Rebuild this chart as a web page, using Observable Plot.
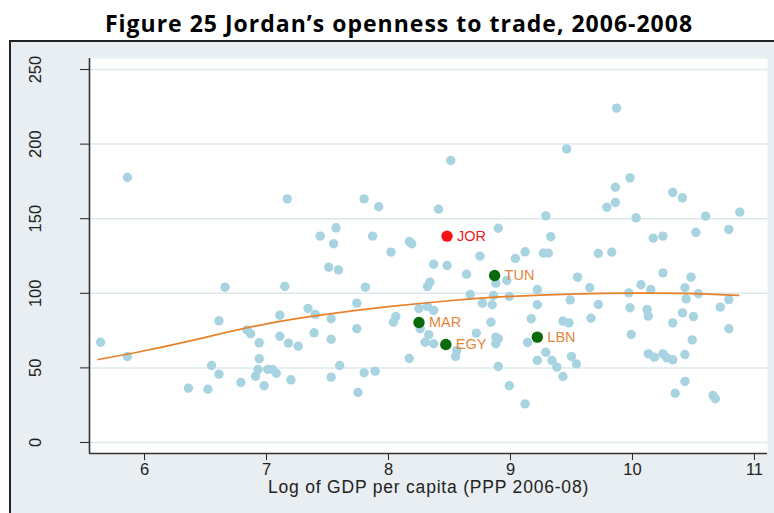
<!DOCTYPE html>
<html><head><meta charset="utf-8">
<script src="https://cdn.jsdelivr.net/npm/d3@7"></script>
<script src="https://cdn.jsdelivr.net/npm/@observablehq/plot@0.6"></script>
<style>
body{margin:0;background:#fff;width:774px;height:513px;overflow:hidden;position:relative;font-family:"Liberation Sans",Arial,sans-serif}
#title{position:absolute;left:0;top:3px;width:798px;height:36px;text-align:center;font-family:"Open Sans",sans-serif;font-weight:bold;font-size:23px;letter-spacing:1px;line-height:40px;color:#000;white-space:nowrap}
#box{position:absolute;left:9px;top:40px;width:765px;height:473px;border-left:2px solid #222;border-top:2px solid #222;background:#e8eef1;box-sizing:border-box}
#box svg{display:block;font-family:"Liberation Sans",Arial,sans-serif !important}
#box svg text{font-family:"Liberation Sans",Arial,sans-serif !important}
</style></head>
<body>
<div id="title">Figure 25 Jordan’s openness to trade, 2006-2008</div>
<div id="box"></div>
<script>
const gdp = [5.86,7.17,7.80,7.92,7.57,7.44,7.87,7.55,8.02,7.51,7.59,9.87,9.46,8.51,9.98,9.86,10.33,10.41,9.86,9.79,
8.41,9.29,10.03,10.60,10.88,8.90,9.33,10.17,10.25,10.52,10.79,8.17,8.19,9.12,9.27,9.31,9.72,9.83,8.75,9.04,
8.37,8.48,8.64,10.25,10.48,9.55,8.88,8.97,7.81,8.34,8.32,6.66,7.15,
5.64,5.86,6.61,6.84,6.87,6.94,6.94,6.55,6.61,6.36,6.52,6.79,6.91,6.93,7.01,7.05,7.08,6.98,7.11,7.11,7.18,7.26,7.20,
7.34,7.40,7.39,7.53,7.53,7.60,7.53,7.74,7.74,7.80,7.89,7.75,8.04,8.06,
8.17,8.25,8.32,8.37,8.26,8.33,8.30,8.37,8.56,8.55,8.67,8.77,8.85,8.86,8.84,8.99,8.72,8.88,8.90,8.88,8.90,8.99,9.12,
9.14,9.22,9.17,9.22,9.22,9.43,9.48,9.49,9.65,9.72,9.66,9.29,9.34,9.38,9.50,9.54,9.43,
9.97,10.07,10.15,9.98,10.12,10.13,9.99,10.13,10.18,10.25,10.28,10.33,10.33,10.41,10.50,10.43,10.44,10.54,10.49,10.43,
10.43,10.35,10.66,10.68,10.72,10.79,10.79];
const openness = [177.6,163.3,163.3,158,143.9,138.3,138.3,133.2,127.6,117.5,115.7,224.1,196.8,189,177.4,171.1,167.6,164,160.9,157.7,
156.4,151.9,150.6,151.7,154.4,143.6,137.9,137,138.3,140.8,142.8,134.7,133.2,127.8,126.9,126.9,126.7,127.6,124.9,123.3,
119.5,118.6,112.8,113.7,110.8,110.8,106.8,108.6,104.1,107.5,104.5,104.1,104.6,
67.2,57.6,81.5,75.5,72.9,66.8,56.1,51.6,45.8,36.4,35.7,40.2,44.4,48.9,48.9,48.9,46.4,38,85.3,71.2,66.6,64.5,42,
89.8,85.8,73.5,82.9,69.2,51.6,43.8,93.4,76.2,46.7,47.8,33.5,80.6,84.4,
56.3,89.8,91.2,88.5,76.2,72.2,67.2,66.2,61.7,57.6,99.2,93.4,92.3,98.5,80.6,97.9,73.3,70.6,69.5,66.2,50.9,38,25.9,
67,55,82.9,92.3,102.5,81.3,80.2,95.6,103.7,92.5,83.3,60.5,55,50.5,57.6,52.7,44.2,
100.3,105.7,102.5,90.3,89.1,84.7,72.4,59.4,57.2,59.4,56.8,55.4,80.2,86.9,84.4,103.7,96.3,99.7,68.8,59,
40.9,33,31.5,29.3,90.7,95.8,76.2];
const hlCode = ["JOR","TUN","MAR","EGY","LBN"];
const hlGdp = [8.48,8.87,8.25,8.47,9.22];
const hlOpen = [138.3,111.9,80.4,65.7,70.6];
const fitGdp = [5.62,6,6.5,7,7.5,8,8.5,9,9.5,10,10.5,10.87];
const fitOpen = [55.6,61.5,70.5,79.5,86,91,95,97.9,99.5,100.1,99.8,98.6];
const xTicks = [6,7,8,9,10,11];
const yTicks = [0,50,100,150,200,250];
const xLabel = "Log of GDP per capita (PPP 2006-08)";

const xDom = [5.549, 11.107];
const yDom = [-7.4, 257.4];
const pts = gdp.map((x,i)=>({x, y: openness[i]}));
const hl = hlCode.map((c,i)=>({c, x: hlGdp[i], y: hlOpen[i],
  color: c==="JOR" ? "#f41414" : "#0b6a0b", lab: c==="JOR" ? "#f02020" : "#e2863a"}));
const fit = fitGdp.map((x,i)=>({x, y: fitOpen[i]}));
const FF = "Liberation Sans, Arial, sans-serif";

const chart = Plot.plot({
  width: 763, height: 471, marginLeft: 78, marginRight: 7, marginTop: 16, marginBottom: 60,
  style: {background: "transparent", fontFamily: FF, overflow: "visible"},
  x: {domain: xDom},
  y: {domain: yDom},
  marks: [
    Plot.frame({fill: "white", stroke: null}),
    Plot.gridY(yTicks, {stroke: "#dde8ec", strokeOpacity: 1, strokeWidth: 1.5}),
    Plot.dot(pts, {x: "x", y: "y", r: 4.7, fill: "#a8d3e1", stroke: null}),
    Plot.line(fit, {x: "x", y: "y", stroke: "#e8812a", strokeWidth: 1.7, curve: "natural"}),
    Plot.dot(hl, {x: "x", y: "y", r: 5.7, fill: d => d.color, stroke: null}),
    Plot.text(hl, {x: "x", y: "y", text: "c", dx: 10, textAnchor: "start", fill: d => d.lab, fontSize: 14.5, fontFamily: FF}),
    Plot.axisX(xTicks, {tickSize: 7, tickPadding: 3, fontSize: 16.5, tickFormat: "d", label: null, color: "#222", fontFamily: FF}),
    Plot.axisY(yTicks, {tickSize: 9, tickRotate: -90, tickPadding: 40, fontSize: 16.5, tickFormat: "d", label: null, color: "#222", fontFamily: FF}),
    Plot.ruleX([xDom[0]], {stroke: "#333", strokeWidth: 1.6}),
    Plot.ruleY([yDom[0]], {stroke: "#333", strokeWidth: 1.6}),
    Plot.text([xLabel], {frameAnchor: "bottom", dy: 39, fontSize: 17.5, fill: "#222", fontFamily: FF})
  ]
});
document.getElementById("box").appendChild(chart);
const texts = chart.querySelectorAll("text");
texts[texts.length - 1].style.letterSpacing = "0.8px";
</script>
</body></html>
